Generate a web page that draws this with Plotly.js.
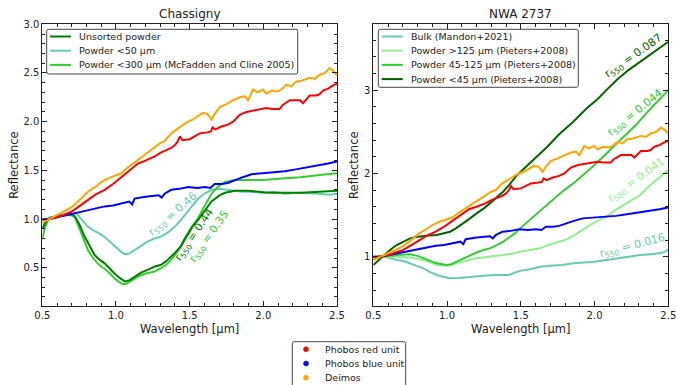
<!DOCTYPE html>
<html>
<head>
<meta charset="utf-8">
<script src="https://cdn.plot.ly/plotly-3.0.1.min.js"></script>
<style>
  html, body { margin: 0; padding: 0; background: #fff; }
  #chart { width: 676px; height: 385px; }
</style>
</head>
<body>
<div id="chart"></div>
<script>
// ---- Phobos / Deimos reference spectra (normalised at 0.55 µm), shared by both panels ----
const deimosWl = [0.50,0.55,0.606,0.65,0.697,0.75,0.81,0.86,0.90,0.95,1.00,1.036,1.08,1.149,1.20,1.26,1.30,1.33,1.375,1.42,1.476,1.52,1.569,1.59,1.62,1.649,1.67,1.705,1.75,1.795,1.84,1.874,1.897,1.93,1.96,1.998,2.02,2.06,2.10,2.13,2.157,2.19,2.22,2.26,2.315,2.35,2.38,2.42,2.45,2.47,2.49,2.50];
const deimosRefl = [0.96,1.00,1.04,1.08,1.12,1.19,1.28,1.33,1.38,1.42,1.45,1.47,1.53,1.61,1.66,1.73,1.78,1.80,1.88,1.93,1.99,2.02,2.07,2.09,2.08,2.02,2.08,2.15,2.18,2.22,2.25,2.26,2.22,2.33,2.30,2.33,2.29,2.32,2.31,2.34,2.38,2.36,2.41,2.42,2.45,2.44,2.48,2.50,2.55,2.53,2.49,2.48];

const redWl = [0.50,0.55,0.606,0.65,0.697,0.75,0.81,0.86,0.923,0.98,1.036,1.09,1.149,1.20,1.26,1.30,1.375,1.40,1.42,1.434,1.45,1.50,1.569,1.62,1.645,1.655,1.675,1.716,1.76,1.795,1.84,1.886,1.92,1.96,2.02,2.06,2.11,2.13,2.18,2.22,2.25,2.27,2.315,2.36,2.38,2.405,2.44,2.47,2.50];
const redRefl = [0.99,1.00,1.02,1.05,1.075,1.13,1.195,1.25,1.30,1.36,1.43,1.50,1.57,1.60,1.64,1.68,1.73,1.76,1.80,1.85,1.81,1.82,1.88,1.89,1.90,1.94,1.92,1.95,1.97,2.00,2.07,2.10,2.11,2.12,2.14,2.13,2.13,2.17,2.22,2.22,2.22,2.19,2.27,2.27,2.28,2.32,2.34,2.37,2.39];

const blueWl = [0.50,0.55,0.606,0.65,0.697,0.75,0.81,0.87,0.923,0.98,1.036,1.09,1.11,1.126,1.20,1.26,1.29,1.31,1.33,1.375,1.43,1.49,1.55,1.603,1.64,1.67,1.72,1.76,1.806,1.86,1.92,2.00,2.07,2.146,2.22,2.30,2.37,2.44,2.50];
const blueRefl = [1.00,1.00,1.02,1.035,1.05,1.07,1.09,1.11,1.13,1.14,1.16,1.18,1.15,1.21,1.23,1.24,1.245,1.22,1.26,1.30,1.31,1.33,1.32,1.33,1.32,1.36,1.36,1.37,1.40,1.43,1.46,1.47,1.48,1.49,1.51,1.53,1.55,1.57,1.59];

// ---- Chassigny laboratory spectra ----
const chUnsortedWl = [0.50,0.52,0.55,0.60,0.65,0.697,0.72,0.75,0.787,0.82,0.855,0.89,0.923,0.96,0.99,1.03,1.06,1.09,1.126,1.17,1.217,1.26,1.307,1.35,1.398,1.44,1.467,1.49,1.52,1.557,1.60,1.648,1.70,1.74,1.806,1.90,2.03,2.15,2.26,2.38,2.50];
const chUnsortedRefl = [0.90,0.96,1.01,1.03,1.04,1.05,1.03,0.95,0.82,0.72,0.63,0.58,0.545,0.49,0.44,0.39,0.36,0.37,0.41,0.45,0.48,0.51,0.53,0.58,0.65,0.72,0.80,0.86,0.93,0.99,1.08,1.18,1.24,1.27,1.29,1.29,1.27,1.27,1.27,1.28,1.29];

const ch50Wl = [0.50,0.52,0.55,0.606,0.65,0.697,0.73,0.76,0.81,0.85,0.90,0.935,0.968,1.00,1.03,1.06,1.09,1.126,1.17,1.217,1.26,1.307,1.35,1.398,1.44,1.49,1.53,1.557,1.60,1.648,1.70,1.74,1.80,1.86,1.92,2.00,2.07,2.146,2.25,2.37,2.45,2.50];
const ch50Refl = [0.90,0.97,1.02,1.03,1.05,1.06,1.06,1.01,0.92,0.88,0.84,0.80,0.75,0.71,0.67,0.64,0.645,0.68,0.72,0.77,0.80,0.82,0.86,0.92,0.99,1.08,1.16,1.21,1.26,1.30,1.31,1.30,1.29,1.28,1.28,1.27,1.28,1.26,1.27,1.26,1.25,1.26];

const ch300Wl = [0.50,0.52,0.539,0.573,0.606,0.65,0.697,0.72,0.74,0.764,0.79,0.81,0.84,0.866,0.90,0.923,0.96,0.99,1.02,1.047,1.07,1.09,1.12,1.149,1.20,1.26,1.30,1.34,1.375,1.42,1.467,1.49,1.52,1.557,1.60,1.648,1.69,1.74,1.806,1.86,1.92,2.00,2.146,2.25,2.37,2.45,2.50];
const ch300Refl = [0.80,0.92,0.99,1.02,1.03,1.04,1.04,1.02,0.95,0.85,0.75,0.68,0.61,0.56,0.51,0.49,0.44,0.39,0.355,0.33,0.335,0.35,0.38,0.41,0.44,0.46,0.49,0.53,0.58,0.67,0.78,0.84,0.92,1.01,1.13,1.26,1.33,1.38,1.40,1.40,1.40,1.40,1.42,1.43,1.45,1.46,1.47];

// ---- NWA 2737 laboratory spectra ----
const nwaBulkWl = [0.50,0.568,0.60,0.659,0.70,0.749,0.80,0.84,0.88,0.93,0.97,1.02,1.08,1.156,1.20,1.27,1.33,1.38,1.42,1.46,1.495,1.56,1.63,1.70,1.78,1.856,1.93,2.00,2.08,2.15,2.23,2.31,2.38,2.44,2.48,2.50];
const nwaBulkRefl = [0.98,1.00,0.99,0.96,0.95,0.92,0.89,0.86,0.82,0.78,0.76,0.74,0.745,0.76,0.77,0.775,0.78,0.78,0.78,0.81,0.83,0.85,0.88,0.89,0.90,0.92,0.93,0.94,0.96,0.98,1.00,1.02,1.03,1.04,1.06,1.09];

const nwa125Wl = [0.50,0.568,0.659,0.749,0.80,0.84,0.89,0.93,0.98,1.02,1.06,1.11,1.156,1.20,1.27,1.337,1.40,1.46,1.495,1.56,1.63,1.687,1.75,1.80,1.856,1.913,1.96,2.02,2.08,2.14,2.20,2.25,2.31,2.364,2.42,2.46,2.50];
const nwa125Refl = [1.00,1.00,1.00,0.99,0.975,0.96,0.93,0.90,0.89,0.90,0.92,0.94,0.96,0.98,0.995,1.01,1.03,1.04,1.06,1.08,1.10,1.14,1.17,1.20,1.25,1.32,1.37,1.43,1.48,1.56,1.62,1.67,1.74,1.84,1.92,1.98,2.04];

const nwa45Wl = [0.50,0.568,0.659,0.749,0.80,0.84,0.89,0.93,0.998,1.03,1.065,1.11,1.156,1.20,1.246,1.29,1.337,1.38,1.427,1.46,1.495,1.56,1.63,1.70,1.78,1.856,1.93,2.00,2.07,2.14,2.21,2.28,2.35,2.42,2.50];
const nwa45Refl = [1.00,1.00,1.02,1.03,1.01,0.98,0.95,0.92,0.90,0.91,0.94,0.98,1.02,1.05,1.08,1.10,1.14,1.18,1.24,1.28,1.34,1.44,1.55,1.66,1.78,1.88,1.99,2.10,2.22,2.34,2.46,2.58,2.72,2.85,3.00];

const nwaFineWl = [0.50,0.568,0.62,0.659,0.70,0.749,0.80,0.84,0.88,0.93,0.98,1.02,1.06,1.11,1.156,1.20,1.25,1.29,1.335,1.38,1.42,1.47,1.53,1.60,1.68,1.76,1.856,1.94,2.025,2.08,2.15,2.23,2.30,2.364,2.43,2.50];
const nwaFineRefl = [0.90,1.01,1.09,1.14,1.18,1.22,1.24,1.25,1.255,1.26,1.28,1.30,1.34,1.40,1.46,1.52,1.58,1.64,1.71,1.78,1.86,1.97,2.07,2.19,2.32,2.47,2.62,2.77,2.90,3.00,3.12,3.24,3.33,3.41,3.49,3.58];

// ---- r550 labels placed along the curves ----
const r550Labels = [
  { xref: 'x',  yref: 'y',  x: 1.39, y: 1.05, v: '0.46',  c: '#66CDAA', a: -41 },
  { xref: 'x',  yref: 'y',  x: 1.53, y: 0.84, v: '0.44',  c: '#008000', a: -56 },
  { xref: 'x',  yref: 'y',  x: 1.63, y: 0.82, v: '0.35',  c: '#32CD32', a: -55 },
  { xref: 'x2', yref: 'y2', x: 2.265, y: 3.41, v: '0.087', c: '#006400', a: -35 },
  { xref: 'x2', yref: 'y2', x: 2.275, y: 2.72, v: '0.044', c: '#32CD32', a: -39 },
  { xref: 'x2', yref: 'y2', x: 2.285, y: 1.92, v: '0.041', c: '#90EE90', a: -36 },
  { xref: 'x2', yref: 'y2', x: 2.257, y: 1.13, v: '0.016', c: '#66CDAA', a: -14.5 }
];

// ---- legend contents ----
const chassignyLegend = [['Unsorted powder', '#008000'], ['Powder <50 µm', '#66CDAA'], ['Powder <300 µm (McFadden and Cline 2005)', '#32CD32']];
const nwaLegend = [['Bulk (Mandon+2021)', '#66CDAA'], ['Powder >125 µm (Pieters+2008)', '#90EE90'], ['Powder 45-125 µm (Pieters+2008)', '#32CD32'], ['Powder <45 µm (Pieters+2008)', '#006400']];
const bodyLegend = [['Phobos red unit', '#FF0000'], ['Phobos blue unit', '#0000FF'], ['Deimos', '#FFA500']];

const FONT = 'DejaVu Sans, Arial, sans-serif';
const INK = '#222222';
const W = 676, H = 385;
const px = function (x) { return x / W; };
const py = function (y) { return 1 - y / H; };

function line(x, y, color, xa, ya) {
  return {
    type: 'scatter', mode: 'lines', x: x, y: y,
    xaxis: xa, yaxis: ya, showlegend: false,
    line: { color: color, width: 2 }, hoverinfo: 'skip'
  };
}

const traces = [
  line(ch50Wl, ch50Refl, '#66CDAA', 'x', 'y'),
  line(ch300Wl, ch300Refl, '#32CD32', 'x', 'y'),
  line(chUnsortedWl, chUnsortedRefl, '#008000', 'x', 'y'),
  line(blueWl, blueRefl, '#0000FF', 'x', 'y'),
  line(redWl, redRefl, '#FF0000', 'x', 'y'),
  line(deimosWl, deimosRefl, '#FFA500', 'x', 'y'),
  line(nwaBulkWl, nwaBulkRefl, '#66CDAA', 'x2', 'y2'),
  line(nwa125Wl, nwa125Refl, '#90EE90', 'x2', 'y2'),
  line(nwa45Wl, nwa45Refl, '#32CD32', 'x2', 'y2'),
  line(nwaFineWl, nwaFineRefl, '#006400', 'x2', 'y2'),
  line(blueWl, blueRefl, '#0000FF', 'x2', 'y2'),
  line(redWl, redRefl, '#FF0000', 'x2', 'y2'),
  line(deimosWl, deimosRefl, '#FFA500', 'x2', 'y2')
];

function xAxis(anchor, domain) {
  return {
    domain: domain, anchor: anchor, range: [0.5, 2.5],
    tick0: 0.5, dtick: 0.5, tickformat: '.1f', ticklabeloverflow: 'allow',
    ticks: 'inside', ticklen: 5, tickwidth: 1, tickcolor: INK,
    minor: { dtick: 0.1, ticks: 'inside', ticklen: 3, tickcolor: INK, showgrid: false },
    showline: true, linecolor: INK, linewidth: 1, mirror: 'ticks',
    showgrid: false, zeroline: false,
    tickfont: { family: FONT, size: 10, color: INK },
    title: { text: 'Wavelength [µm]', font: { family: FONT, size: 11.5, color: INK }, standoff: 4 }
  };
}

function yAxis(anchor, domain, range, major, minor, fmt) {
  return {
    domain: domain, anchor: anchor, range: range,
    tick0: 0, dtick: major, tickformat: fmt, ticklabeloverflow: 'allow',
    ticks: 'inside', ticklen: 5, tickwidth: 1, tickcolor: INK,
    minor: { tick0: 0, dtick: minor, ticks: 'inside', ticklen: 3, tickcolor: INK, showgrid: false },
    showline: true, linecolor: INK, linewidth: 1, mirror: 'ticks',
    showgrid: false, zeroline: false,
    tickfont: { family: FONT, size: 10, color: INK },
    title: { text: 'Reflectance', font: { family: FONT, size: 11.5, color: INK }, standoff: 2 }
  };
}

// rounded legend frame, given in pixels, drawn in paper coordinates
function frame(x0, y0, x1, y1) {
  const r = 2;
  const p = function (x, y) { return px(x) + ',' + py(y); };
  return {
    type: 'path', xref: 'paper', yref: 'paper', layer: 'above',
    path: 'M' + p(x0 + r, y0) + ' L' + p(x1 - r, y0) + ' Q' + p(x1, y0) + ' ' + p(x1, y0 + r) +
          ' L' + p(x1, y1 - r) + ' Q' + p(x1, y1) + ' ' + p(x1 - r, y1) +
          ' L' + p(x0 + r, y1) + ' Q' + p(x0, y1) + ' ' + p(x0, y1 - r) +
          ' L' + p(x0, y0 + r) + ' Q' + p(x0, y0) + ' ' + p(x0 + r, y0) + ' Z',
    fillcolor: 'rgba(255,255,255,0.85)', line: { color: '#444', width: 1 }
  };
}

const shapes = [];
const annotations = [];

function lineLegend(entries, box, sampleX0, sampleX1, textX, firstY, step) {
  shapes.push(frame(box[0], box[1], box[2], box[3]));
  entries.forEach(function (e, i) {
    const y = firstY + i * step;
    shapes.push({ type: 'line', xref: 'paper', yref: 'paper', layer: 'above',
      x0: px(sampleX0), x1: px(sampleX1), y0: py(y), y1: py(y), line: { color: e[1], width: 2 } });
    annotations.push({ xref: 'paper', yref: 'paper', x: px(textX), y: py(y), text: e[0],
      showarrow: false, xanchor: 'left', yanchor: 'middle',
      font: { family: FONT, size: 9.5, color: INK } });
  });
}

lineLegend(chassignyLegend, [46.7, 29.3, 297.7, 74], 50, 71, 77, 36.5, 14.2);
lineLegend(nwaLegend, [378.3, 29.3, 578.3, 87.3], 381.7, 402.7, 409, 36.5, 14.2);

// Phobos / Deimos key below the panels (markers only)
shapes.push(frame(292.3, 341.7, 405.7, 395));
bodyLegend.forEach(function (e, i) {
  const y = 349.3 + i * 14.2;
  shapes.push({ type: 'circle', xref: 'paper', yref: 'paper', layer: 'above',
    x0: px(303.5), x1: px(308.5), y0: py(y + 2.5), y1: py(y - 2.5),
    fillcolor: e[1], line: { color: e[1], width: 0.5 } });
  annotations.push({ xref: 'paper', yref: 'paper', x: px(322.5), y: py(y), text: e[0],
    showarrow: false, xanchor: 'left', yanchor: 'middle',
    font: { family: FONT, size: 9.5, color: INK } });
});

r550Labels.forEach(function (l) {
  annotations.push({
    xref: l.xref, yref: l.yref, x: l.x, y: l.y, showarrow: false,
    text: 'r<sub>550</sub> = ' + l.v, textangle: l.a,
    xanchor: 'center', yanchor: 'middle',
    font: { family: FONT, size: 11, color: l.c }
  });
});

annotations.push(
  { xref: 'paper', yref: 'paper', x: px((42.3 + 337) / 2), y: py(14), text: 'Chassigny',
    showarrow: false, xanchor: 'center', yanchor: 'middle', font: { family: FONT, size: 12, color: INK } },
  { xref: 'paper', yref: 'paper', x: px((373.3 + 668.3) / 2), y: py(14), text: 'NWA 2737',
    showarrow: false, xanchor: 'center', yanchor: 'middle', font: { family: FONT, size: 12, color: INK } }
);

const yDom = [py(306), py(24.3)];

const layout = {
  width: W, height: H,
  margin: { l: 0, r: 0, t: 0, b: 0 },
  paper_bgcolor: '#fff', plot_bgcolor: '#fff',
  font: { family: FONT, color: INK },
  showlegend: false,
  xaxis: xAxis('y', [px(42.3), px(337)]),
  yaxis: yAxis('x', yDom, [0.107, 3.0], 0.5, 0.1, '.1f'),
  xaxis2: xAxis('y2', [px(373.3), px(668.3)]),
  yaxis2: yAxis('x2', yDom, [0.408, 3.79], 1, 0.2, 'd'),
  shapes: shapes,
  annotations: annotations
};

Plotly.newPlot('chart', traces, layout, { staticPlot: true, displayModeBar: false });
</script>
</body>
</html>
